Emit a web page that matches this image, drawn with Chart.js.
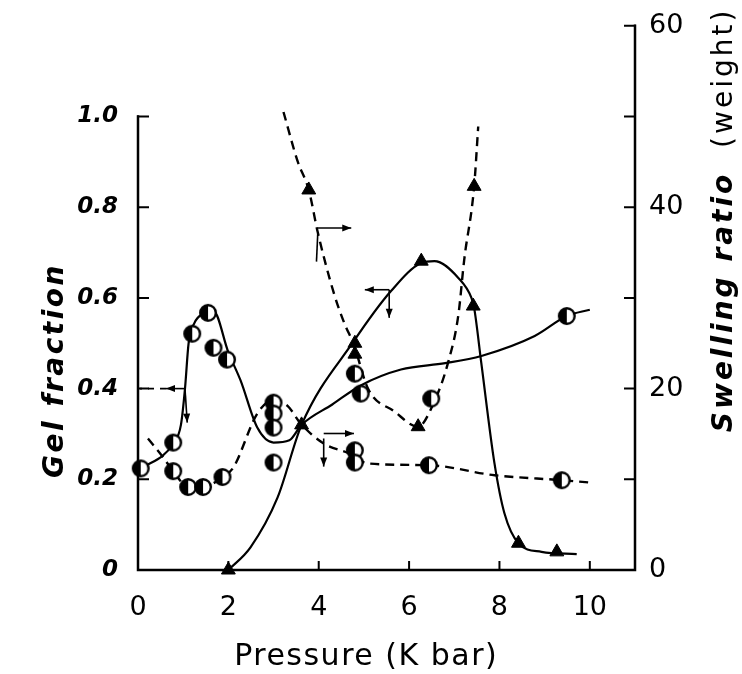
<!DOCTYPE html>
<html>
<head>
<meta charset="utf-8">
<script src="https://cdn.jsdelivr.net/npm/chart.js@4.4.1/dist/chart.umd.min.js"></script>
<style>
  html, body { margin: 0; padding: 0; background: #fff; }
  #chart { display: block; }
</style>
</head>
<body>
<canvas id="chart" width="742" height="674"></canvas>
<script>
// axis ticks
const pressureTicks = [0, 2, 4, 6, 8, 10];
const gelTicks = [0, 0.2, 0.4, 0.6, 0.8, 1.0];
const swellTicks = [0, 20, 40, 60];
const swellMinorTicks = [10, 30, 50];

// gel fraction, half-filled circles (left axis)
const gelCirclePts = [
    [0.06, 0.224], [0.78, 0.281], [1.2, 0.521], [1.55, 0.567], [1.67, 0.49],
    [1.97, 0.464], [3.0, 0.314], [3.0, 0.237], [4.8, 0.433], [4.93, 0.389], [9.49, 0.56]
];
const gelCircleCurve = [
    [0.05, 0.222], [0.78, 0.279], [0.95, 0.32], [1.04, 0.40], [1.12, 0.50], [1.25, 0.545],
    [1.45, 0.566], [1.67, 0.571], [2.0, 0.48], [2.27, 0.418], [2.64, 0.314], [3.0, 0.281],
    [3.35, 0.286], [3.62, 0.32], [4.3, 0.365], [4.93, 0.407], [5.82, 0.442], [6.8, 0.456],
    [7.6, 0.472], [8.78, 0.516], [9.49, 0.56], [10.0, 0.574]
];

// swelling ratio, half-filled circles (right axis)
const swellCirclePts = [
    [0.78, 10.9], [1.11, 9.15], [1.44, 9.15], [1.87, 10.25], [3.0, 18.45], [3.0, 17.25],
    [4.8, 13.2], [4.8, 11.85], [6.44, 11.55], [9.38, 9.9], [6.49, 18.9]
];
const swellCircleCurve = [
    [0.22, 14.5], [0.56, 12.4], [0.78, 10.9], [1.11, 9.15], [1.44, 9.15], [1.87, 10.25],
    [2.11, 11.3], [2.64, 17.25], [3.0, 18.7], [3.31, 18.1], [3.6, 16.15], [4.11, 13.95],
    [4.67, 12.85], [5.09, 11.75], [6.44, 11.55], [7.89, 10.45], [9.38, 9.9], [9.98, 9.65]
];

// gel fraction, triangles (left axis)
const gelTriPts = [
    [2.0, 0.0], [3.62, 0.32], [4.8, 0.50], [6.27, 0.681], [7.42, 0.582], [8.42, 0.059], [9.27, 0.04]
];
const gelTriCurve = [
    [2.0, 0.0], [2.49, 0.05], [3.09, 0.16], [3.62, 0.32], [4.78, 0.505], [5.6, 0.615],
    [6.27, 0.677], [6.56, 0.681], [7.09, 0.644], [7.38, 0.6], [7.44, 0.578], [7.6, 0.455],
    [7.89, 0.235], [8.11, 0.125], [8.42, 0.059], [8.93, 0.04], [9.71, 0.035]
];

// swelling ratio, triangles (right axis)
const swellTriPts = [
    [3.78, 41.9], [4.8, 23.8], [6.2, 15.8], [7.44, 42.3]
];
const swellTriCurve = [
    [3.22, 50.5], [3.53, 45.1], [3.78, 41.9], [3.98, 37.2], [4.33, 30.6], [4.56, 27.3],
    [4.78, 24.8], [5.09, 20.0], [5.67, 17.5], [6.2, 15.8], [6.56, 18.6], [6.87, 23.0],
    [7.09, 28.1], [7.22, 34.2], [7.44, 42.3], [7.53, 48.9]
];

// little arrows telling which axis a curve belongs to (pressure, gel fraction units)
const axisArrows = [
    { from: [1.04, 0.40], to: [0.62, 0.40], head: true },
    { from: [0.62, 0.40], to: [0.04, 0.40], head: false, dash: true },
    { from: [1.04, 0.40], to: [1.09, 0.325], head: true },
    { from: [3.98, 0.754], to: [4.72, 0.754], head: true },
    { from: [3.98, 0.745], to: [3.95, 0.68], head: false },
    { from: [5.56, 0.618], to: [5.02, 0.618], head: true },
    { from: [5.56, 0.618], to: [5.56, 0.556], head: true },
    { from: [4.11, 0.301], to: [4.78, 0.301], head: true },
    { from: [4.11, 0.29], to: [4.11, 0.228], head: true }
];

const toXY = pts => pts.map(p => ({ x: p[0], y: p[1] }));

// circle with the left half filled in
const halfDot = (() => {
    const c = document.createElement("canvas");
    c.width = c.height = 20;
    const g = c.getContext("2d");
    g.beginPath();
    g.arc(10, 10, 7.8, 0, Math.PI * 2);
    g.fillStyle = "#fff";
    g.fill();
    g.beginPath();
    g.arc(10, 10, 7.8, Math.PI / 2, Math.PI * 1.5);
    g.closePath();
    g.fillStyle = "#000";
    g.fill();
    g.beginPath();
    g.arc(10, 10, 7.8, 0, Math.PI * 2);
    g.lineWidth = 2.4;
    g.strokeStyle = "#000";
    g.stroke();
    return c;
})();

const curve = (data, axis, dashed) => ({
    data: toXY(data),
    yAxisID: axis,
    borderColor: "#000",
    borderWidth: dashed ? 2.4 : 2.2,
    borderDash: dashed ? [9, 6] : [],
    pointRadius: 0,
    fill: false,
    cubicInterpolationMode: "monotone",
    order: 2
});

const marks = (data, axis, style) => ({
    data: toXY(data),
    yAxisID: axis,
    showLine: false,
    pointStyle: style,
    pointRadius: style === "triangle" ? 8 : 9,
    backgroundColor: "#000",
    borderColor: "#000",
    borderWidth: 1,
    clip: false,
    order: 1
});

const frame = {
    id: "frame",
    afterDatasetsDraw(chart) {
        const ctx = chart.ctx;
        const xs = chart.scales.x, yg = chart.scales.yGel, ys = chart.scales.ySwell;
        const x0 = xs.getPixelForValue(0), x1 = xs.getPixelForValue(11);
        const yBottom = yg.getPixelForValue(0);
        ctx.save();
        ctx.strokeStyle = "#000";
        ctx.fillStyle = "#000";
        ctx.lineCap = "square";

        // axis lines
        ctx.lineWidth = 2.5;
        ctx.beginPath();
        ctx.moveTo(x0, yg.getPixelForValue(1.0));
        ctx.lineTo(x0, yBottom);
        ctx.lineTo(x1, yBottom);
        ctx.lineTo(x1, ys.getPixelForValue(60));
        ctx.stroke();

        // inward tick marks
        ctx.lineWidth = 2;
        ctx.beginPath();
        gelTicks.forEach(v => {
            const y = yg.getPixelForValue(v);
            ctx.moveTo(x0, y);
            ctx.lineTo(x0 + 10, y);
        });
        swellTicks.concat(swellMinorTicks).forEach(v => {
            const y = ys.getPixelForValue(v);
            ctx.moveTo(x1, y);
            ctx.lineTo(x1 - 10, y);
        });
        pressureTicks.slice(1).forEach(v => {
            const x = xs.getPixelForValue(v);
            ctx.moveTo(x, yBottom);
            ctx.lineTo(x, yBottom - 8);
        });
        ctx.stroke();

        // axis arrows
        ctx.lineWidth = 1.6;
        ctx.lineCap = "butt";
        axisArrows.forEach(a => {
            const ax = xs.getPixelForValue(a.from[0]), ay = yg.getPixelForValue(a.from[1]);
            const bx = xs.getPixelForValue(a.to[0]), by = yg.getPixelForValue(a.to[1]);
            ctx.setLineDash(a.dash ? [6, 6] : []);
            ctx.beginPath();
            ctx.moveTo(ax, ay);
            ctx.lineTo(bx, by);
            ctx.stroke();
            if (a.head) {
                const t = Math.atan2(by - ay, bx - ax);
                const len = 9, wid = 3.5;
                ctx.beginPath();
                ctx.moveTo(bx, by);
                ctx.lineTo(bx - len * Math.cos(t) + wid * Math.sin(t), by - len * Math.sin(t) - wid * Math.cos(t));
                ctx.lineTo(bx - len * Math.cos(t) - wid * Math.sin(t), by - len * Math.sin(t) + wid * Math.cos(t));
                ctx.closePath();
                ctx.fill();
            }
        });
        ctx.setLineDash([]);

        // axis titles
        ctx.textBaseline = "middle";
        ctx.textAlign = "center";

        ctx.save();
        ctx.letterSpacing = "1.5px";
        ctx.font = "30px 'DejaVu Sans'";
        ctx.fillText("Pressure (K bar)", xs.getPixelForValue(5.05), 657);
        ctx.restore();

        ctx.save();
        ctx.translate(56, yg.getPixelForValue(0.44));
        ctx.rotate(-Math.PI / 2);
        ctx.letterSpacing = "2.5px";
        ctx.font = "italic bold 28px 'DejaVu Sans'";
        ctx.fillText("Gel fraction", 0, 0);
        ctx.restore();

        ctx.save();
        ctx.translate(725, ys.getPixelForValue(38.6));
        ctx.rotate(-Math.PI / 2);
        ctx.letterSpacing = "3px";
        ctx.textAlign = "left";
        const boldFont = "italic bold 28px 'DejaVu Sans'";
        const plainFont = "28px 'DejaVu Sans'";
        const part1 = "Swelling ratio", part2 = "  (weight)";
        ctx.font = boldFont;
        const w1 = ctx.measureText(part1).width;
        ctx.font = plainFont;
        const w2 = ctx.measureText(part2).width;
        const start = -(w1 + w2) / 2;
        ctx.font = boldFont;
        ctx.fillText(part1, start, 0);
        ctx.font = plainFont;
        ctx.fillText(part2, start + w1, 0);
        ctx.restore();

        ctx.restore();
    }
};

new Chart(document.getElementById("chart"), {
    type: "line",
    data: {
        datasets: [
            curve(gelCircleCurve, "yGel", false),
            curve(swellCircleCurve, "ySwell", true),
            curve(gelTriCurve, "yGel", false),
            curve(swellTriCurve, "ySwell", true),
            marks(gelCirclePts, "yGel", halfDot),
            marks(swellCirclePts, "ySwell", halfDot),
            marks(gelTriPts, "yGel", "triangle"),
            marks(swellTriPts, "ySwell", "triangle")
        ]
    },
    options: {
        responsive: false,
        animation: false,
        layout: { padding: { top: 21, left: 0, right: 0, bottom: 0 } },
        plugins: {
            legend: { display: false },
            tooltip: { enabled: false }
        },
        scales: {
            x: {
                type: "linear",
                position: "bottom",
                min: 0,
                max: 11,
                grid: { display: false },
                border: { display: false },
                afterBuildTicks: scale => { scale.ticks = pressureTicks.map(value => ({ value })); },
                afterFit: scale => { scale.height = 104; },
                ticks: {
                    color: "#000",
                    padding: 14,
                    font: { family: "DejaVu Sans", size: 27 }
                }
            },
            yGel: {
                type: "linear",
                position: "left",
                min: 0,
                max: 1.2,
                grid: { display: false },
                border: { display: false },
                afterBuildTicks: scale => { scale.ticks = gelTicks.map(value => ({ value })); },
                afterFit: scale => { scale.width = 138; },
                ticks: {
                    color: "#000",
                    padding: 12,
                    font: { family: "DejaVu Sans", size: 23, style: "italic", weight: "bold" },
                    callback: v => v === 0 ? "0" : v.toFixed(1)
                }
            },
            ySwell: {
                type: "linear",
                position: "right",
                min: 0,
                max: 60,
                grid: { display: false },
                border: { display: false },
                afterBuildTicks: scale => { scale.ticks = swellTicks.map(value => ({ value })); },
                afterFit: scale => { scale.width = 107; },
                ticks: {
                    color: "#000",
                    padding: 6,
                    font: { family: "DejaVu Sans", size: 27 }
                }
            }
        }
    },
    plugins: [frame]
});
</script>
</body>
</html>
